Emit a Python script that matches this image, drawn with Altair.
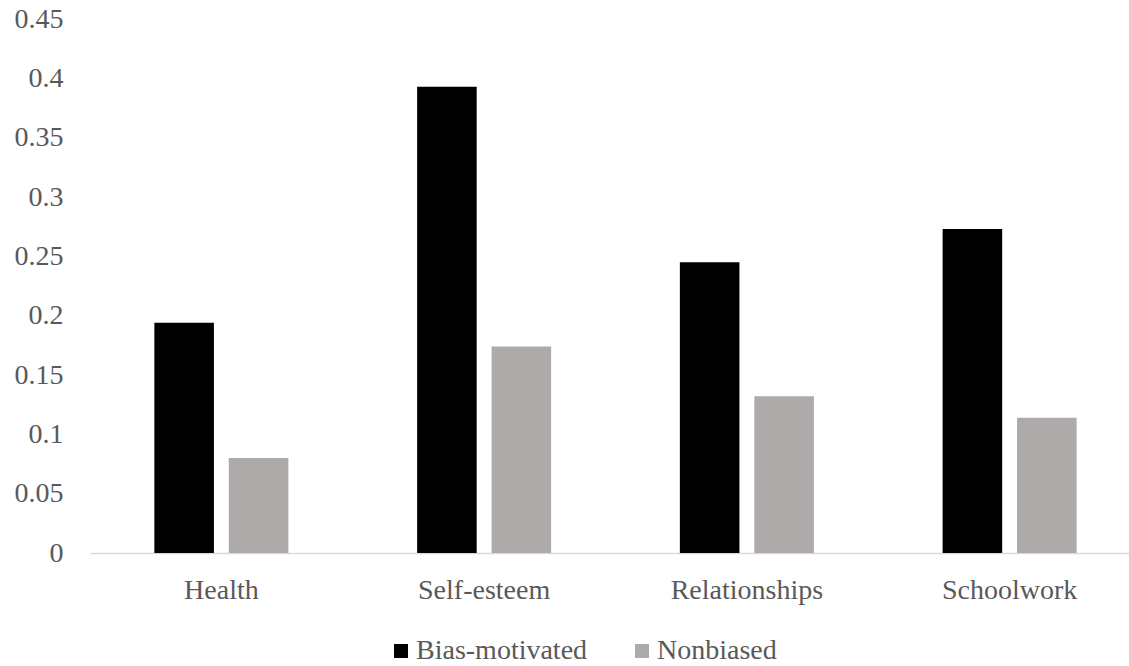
import altair as alt
import pandas as pd

categories = ["Health", "Self-esteem", "Relationships", "Schoolwork"]
series = ["Bias-motivated", "Nonbiased"]
bias_values = [0.194, 0.393, 0.245, 0.273]
nonbias_values = [0.080, 0.174, 0.132, 0.114]
y_ticks = [0, 0.05, 0.1, 0.15, 0.2, 0.25, 0.3, 0.35, 0.4, 0.45]
colors = ["#000000", "#AEAAAA"]

rows = []
for c, b, n in zip(categories, bias_values, nonbias_values):
    rows.append({"category": c, "group": series[0], "value": b})
    rows.append({"category": c, "group": series[1], "value": n})
df = pd.DataFrame(rows)

FONT = "Liberation Serif"
TXT = "#595959"

chart = (
    alt.Chart(df)
    .mark_bar()
    .encode(
        x=alt.X(
            "category:N",
            sort=categories,
            title=None,
            scale=alt.Scale(paddingInner=0.49, paddingOuter=0.245, range=[0, 1051]),
            axis=alt.Axis(
                labelAngle=0,
                labelFont=FONT,
                labelFontSize=28,
                labelColor=TXT,
                labelPadding=23,
                ticks=False,
                domain=True,
                domainColor="#D9D9D9",
                domainWidth=1.5,
                grid=False,
            ),
        ),
        xOffset=alt.XOffset(
            "group:N",
            sort=series,
            scale=alt.Scale(paddingInner=0.2, paddingOuter=0),
        ),
        y=alt.Y(
            "value:Q",
            title=None,
            scale=alt.Scale(domain=[0, 0.45], nice=False),
            axis=alt.Axis(
                values=y_ticks,
                format=".2~f",
                labelFont=FONT,
                labelFontSize=28,
                labelColor=TXT,
                labelPadding=27,
                ticks=False,
                domain=False,
                grid=False,
            ),
        ),
        color=alt.Color(
            "group:N",
            sort=series,
            scale=alt.Scale(domain=series, range=colors),
            legend=alt.Legend(
                title=None,
                orient="none",
                direction="horizontal",
                legendX=297,
                legendY=618,
                symbolType="square",
                symbolSize=196,
                symbolStrokeWidth=0,
                symbolOpacity=1,
                labelFont=FONT,
                labelFontSize=28,
                labelColor=TXT,
                labelOffset=1,
                labelLimit=400,
                columnPadding=40,
            ),
        ),
    )
    .properties(
        width=1038,
        height=534,
        background="white",
        autosize=alt.AutoSizeParams(type="none"),
        padding={"left": 90, "top": 19, "right": 1, "bottom": 113},
    )
    .configure_view(strokeWidth=0, stroke="transparent")
)

chart.save("out.html", embed_options={"renderer": "svg", "actions": False})
